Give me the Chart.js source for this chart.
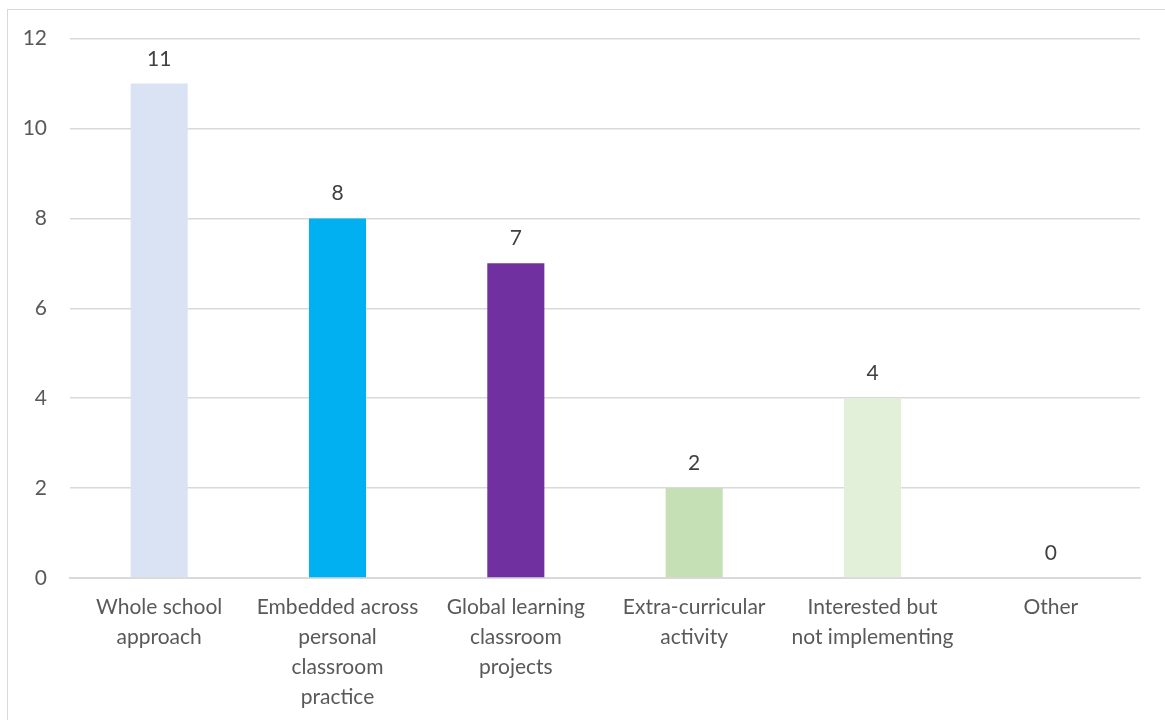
<!DOCTYPE html>
<html lang="en">
<head>
    <meta charset="UTF-8">
    <title>Global learning approaches</title>
    <style>
        body {
            margin: 0;
            background: #ffffff;
        }
        #frame {
            position: absolute;
            left: 7px;
            top: 9px;
            width: 1170px;
            height: 720px;
            border: 1px solid #d9d9d9;
            box-sizing: border-box;
        }
        #wrap {
            position: absolute;
            left: 0;
            top: 3px;
            width: 1165px;
            height: 717px;
        }
    </style>
    <script src="https://cdn.jsdelivr.net/npm/chart.js"></script>
</head>
<body>
    <div id="frame"></div>
    <div id="wrap"><canvas id="barChart"></canvas></div>
    <script>
        const categories = [
            ['Whole school', 'approach'],
            ['Embedded across', 'personal', 'classroom', 'practice'],
            ['Global learning', 'classroom', 'projects'],
            ['Extra-curricular', 'activity'],
            ['Interested but', 'not implementing'],
            ['Other']
        ];
        const counts = [11, 8, 7, 2, 4, 0];
        const barColors = ['#dae3f3', '#00b0f0', '#7030a0', '#c5e0b4', '#e2f0d9', '#a9d18e'];
        const yTicks = [0, 2, 4, 6, 8, 10, 12];

        const textColor = '#595959';
        const fontFamily = 'Lato, "Open Sans", sans-serif';

        // value labels above each bar
        const valueLabels = {
            id: 'valueLabels',
            afterDatasetsDraw(chart) {
                const ctx = chart.ctx;
                const meta = chart.getDatasetMeta(0);
                ctx.save();
                ctx.fillStyle = '#404040';
                ctx.font = '21px ' + fontFamily;
                ctx.textAlign = 'center';
                ctx.textBaseline = 'alphabetic';
                meta.data.forEach((bar, i) => {
                    ctx.fillText(String(counts[i]), bar.x, bar.y - 18);
                });
                ctx.restore();
            }
        };

        new Chart(document.getElementById('barChart'), {
            type: 'bar',
            data: {
                labels: categories,
                datasets: [{
                    data: counts,
                    backgroundColor: barColors,
                    barPercentage: 0.32,
                    categoryPercentage: 1.0
                }]
            },
            options: {
                responsive: true,
                maintainAspectRatio: false,
                animation: false,
                layout: {
                    padding: { top: 31, right: 25, bottom: 0, left: 0 }
                },
                plugins: {
                    legend: { display: false },
                    tooltip: { enabled: false }
                },
                scales: {
                    x: {
                        grid: { display: false, drawTicks: false },
                        border: { display: true, color: '#d9d9d9', width: 2 },
                        ticks: {
                            color: textColor,
                            font: { family: fontFamily, size: 21, lineHeight: 1.43 },
                            padding: 14,
                            maxRotation: 0,
                            autoSkip: false
                        },
                        afterFit(scale) { scale.height = 142; }
                    },
                    y: {
                        min: 0,
                        max: 12,
                        afterBuildTicks(scale) {
                            scale.ticks = yTicks.map(v => ({ value: v }));
                        },
                        grid: { color: '#d9d9d9', lineWidth: 1.5, drawTicks: false },
                        border: { display: false },
                        ticks: {
                            color: textColor,
                            font: { family: fontFamily, size: 21 },
                            padding: 23
                        },
                        afterFit(scale) { scale.width = 70; }
                    }
                }
            },
            plugins: [valueLabels]
        });
    </script>
</body>
</html>
